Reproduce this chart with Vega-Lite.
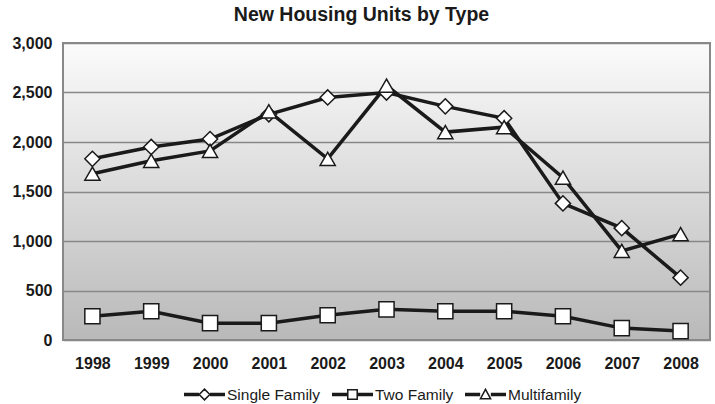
{
  "$schema": "https://vega.github.io/schema/vega-lite/v6.json",
  "width": 647,
  "height": 297,
  "autosize": {"type": "none"},
  "padding": {"left": 63, "top": 43, "right": 5, "bottom": 64},
  "background": "white",
  "title": {
    "text": "New Housing Units by Type",
    "font": "Liberation Sans",
    "fontSize": 19.5,
    "fontWeight": "bold",
    "color": "#1a1a1a",
    "anchor": "middle",
    "dx": -25,
    "offset": 10
  },
  "config": {
    "view": {
      "stroke": "#888888",
      "strokeWidth": 2,
      "fill": {
        "gradient": "linear",
        "x1": 0, "y1": 0, "x2": 0, "y2": 1,
        "stops": [
          {"offset": 0, "color": "#fbfbfb"},
          {"offset": 1, "color": "#b9b9b9"}
        ]
      }
    },
    "axis": {
      "labelFont": "Liberation Sans",
      "labelFontWeight": "bold",
      "labelFontSize": 16,
      "labelColor": "#1a1a1a",
      "domain": false,
      "ticks": false,
      "title": null
    }
  },
  "data": {
    "values": [
      {"year": "1998", "series": "Single Family", "units": 1830},
      {"year": "1999", "series": "Single Family", "units": 1950},
      {"year": "2000", "series": "Single Family", "units": 2030},
      {"year": "2001", "series": "Single Family", "units": 2280},
      {"year": "2002", "series": "Single Family", "units": 2450},
      {"year": "2003", "series": "Single Family", "units": 2500},
      {"year": "2004", "series": "Single Family", "units": 2360},
      {"year": "2005", "series": "Single Family", "units": 2240},
      {"year": "2006", "series": "Single Family", "units": 1380},
      {"year": "2007", "series": "Single Family", "units": 1130},
      {"year": "2008", "series": "Single Family", "units": 630},
      {"year": "1998", "series": "Two Family", "units": 240},
      {"year": "1999", "series": "Two Family", "units": 290},
      {"year": "2000", "series": "Two Family", "units": 170},
      {"year": "2001", "series": "Two Family", "units": 170},
      {"year": "2002", "series": "Two Family", "units": 250},
      {"year": "2003", "series": "Two Family", "units": 310},
      {"year": "2004", "series": "Two Family", "units": 290},
      {"year": "2005", "series": "Two Family", "units": 290},
      {"year": "2006", "series": "Two Family", "units": 240},
      {"year": "2007", "series": "Two Family", "units": 120},
      {"year": "2008", "series": "Two Family", "units": 90},
      {"year": "1998", "series": "Multifamily", "units": 1680},
      {"year": "1999", "series": "Multifamily", "units": 1810},
      {"year": "2000", "series": "Multifamily", "units": 1910},
      {"year": "2001", "series": "Multifamily", "units": 2310},
      {"year": "2002", "series": "Multifamily", "units": 1830},
      {"year": "2003", "series": "Multifamily", "units": 2570},
      {"year": "2004", "series": "Multifamily", "units": 2100},
      {"year": "2005", "series": "Multifamily", "units": 2150},
      {"year": "2006", "series": "Multifamily", "units": 1640},
      {"year": "2007", "series": "Multifamily", "units": 900},
      {"year": "2008", "series": "Multifamily", "units": 1070}
    ]
  },
  "encoding": {
    "x": {
      "field": "year",
      "type": "ordinal",
      "scale": {"paddingInner": 0, "paddingOuter": 0},
      "axis": {"labelAngle": 0, "labelPadding": 15, "grid": false}
    },
    "y": {
      "field": "units",
      "type": "quantitative",
      "scale": {"domain": [0, 3000], "nice": false},
      "axis": {
        "values": [0, 500, 1000, 1500, 2000, 2500, 3000],
        "format": ",.0f",
        "grid": true,
        "gridColor": "#888888",
        "gridWidth": 1.5,
        "labelPadding": 11
      }
    }
  },
  "layer": [
    {
      "mark": {"type": "line", "stroke": "#1a1a1a", "strokeWidth": 3.5},
      "encoding": {"detail": {"field": "series"}}
    },
    {
      "mark": {"type": "point", "filled": true, "fill": "white", "stroke": "#1a1a1a", "strokeWidth": 1.5, "opacity": 1, "size": 230},
      "encoding": {
        "shape": {
          "field": "series",
          "type": "nominal",
          "scale": {
            "domain": ["Single Family", "Two Family", "Multifamily"],
            "range": ["diamond", "square", "triangle-up"]
          },
          "legend": null
        }
      }
    },
    {
      "mark": {"type": "point", "filled": true, "fill": "white", "stroke": "#1a1a1a", "opacity": 0},
      "encoding": {
        "shape": {
          "field": "series",
          "type": "nominal",
          "scale": {
            "domain": ["Single Family", "Two Family", "Multifamily"],
            "range": [
              "M-1,-0.05L-0.27,-0.05M-1,-0.025L-0.27,-0.025M-1,0L-0.27,0M-1,0.025L-0.27,0.025M-1,0.05L-0.27,0.05M0.27,-0.05L1,-0.05M0.27,-0.025L1,-0.025M0.27,0L1,0M0.27,0.025L1,0.025M0.27,0.05L1,0.05M-0.26,0L0,-0.26L0.26,0L0,0.26Z",
              "M-1,-0.05L-0.24,-0.05M-1,-0.025L-0.24,-0.025M-1,0L-0.24,0M-1,0.025L-0.24,0.025M-1,0.05L-0.24,0.05M0.24,-0.05L1,-0.05M0.24,-0.025L1,-0.025M0.24,0L1,0M0.24,0.025L1,0.025M0.24,0.05L1,0.05M-0.23,-0.23L0.23,-0.23L0.23,0.23L-0.23,0.23Z",
              "M-1,-0.05L-0.26,-0.05M-1,-0.025L-0.26,-0.025M-1,0L-0.26,0M-1,0.025L-0.26,0.025M-1,0.05L-0.26,0.05M0.26,-0.05L1,-0.05M0.26,-0.025L1,-0.025M0.26,0L1,0M0.26,0.025L1,0.025M0.26,0.05L1,0.05M-0.25,0.21L0,-0.25L0.25,0.21Z"
            ]
          },
          "legend": {
            "title": null,
            "orient": "none",
            "legendX": 120,
            "legendY": 330,
            "direction": "horizontal",
            "symbolSize": 1681,
            "labelFont": "Liberation Sans",
            "labelFontSize": 15.5,
            "labelColor": "#1a1a1a",
            "labelOffset": 1,
            "columnPadding": 8,
            "symbolOffset": 0,
            "encode": {
              "symbols": {
                "update": {
                  "opacity": {"value": 1},
                  "fill": {"value": "white"},
                  "stroke": {"value": "#1a1a1a"},
                  "strokeWidth": {"value": 1.5},
                  "size": {"value": 1681}
                }
              }
            }
          }
        }
      }
    }
  ],
  "resolve": {"scale": {"shape": "independent"}}
}
